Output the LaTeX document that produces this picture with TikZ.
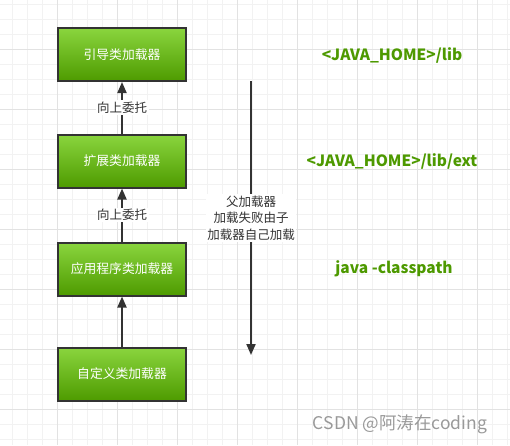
\documentclass[tikz,border=0pt]{standalone}
\usepackage{fontspec}
\setmainfont{Noto Sans CJK SC}
\usetikzlibrary{arrows.meta}
\definecolor{gridminor}{HTML}{F2F2F2}
\definecolor{gridmajor}{HTML}{E2E2E2}
\definecolor{boxtop}{HTML}{8AD53E}
\definecolor{boxbot}{HTML}{4E9B00}
\definecolor{linegray}{HTML}{333333}
\definecolor{pathgreen}{HTML}{4D9900}
\colorlet{markgray}{black!40}

\tikzset{
  loaderbox/.style={draw=linegray, line width=2pt, top color=boxtop, bottom color=boxbot,
    minimum width=128pt, minimum height=53pt, inner sep=0pt, text=white,
    font=\fontsize{12.8}{15}\selectfont},
  delegate/.style={draw=linegray, line width=2pt, -{Triangle[width=9pt,length=11pt]}},
  tag/.style={fill=white, text=linegray, inner sep=1.5pt, align=center,
    font=\fontsize{12.5}{16.5}\selectfont},
  pathlabel/.style={text=pathgreen, font=\bfseries\fontsize{15.5}{17}\selectfont},
}

\begin{document}
\begin{tikzpicture}[x=1pt,y=-1pt]

      \useasboundingbox (0,0) rectangle (510,445);

      % background grid
      \foreach \x in {12,27,...,507} \draw[gridminor] (\x,0) -- (\x,445);
      \foreach \y in {4,19,...,444} \draw[gridminor] (0,\y) -- (510,\y);
      \foreach \x in {57,117,...,507} \draw[gridmajor] (\x,0) -- (\x,445);
      \foreach \y in {49,109,...,444} \draw[gridmajor] (0,\y) -- (510,\y);

      % loaders
      \node[loaderbox] (boot) at (122,54.5) {引导类加载器};
      \node[loaderbox] (ext) at (122,161) {扩展类加载器};
      \node[loaderbox] (app) at (122,269) {应用程序类加载器};
      \node[loaderbox] (custom) at (122,374) {自定义类加载器};

      \draw[delegate] (ext) -- (boot) node[tag,midway] {向上委托};
      \draw[delegate] (app) -- (ext) node[tag,midway] {向上委托};
      \draw[delegate] (custom) -- (app);

      % fallback direction
      \coordinate (fallTop) at (251,81);
      \coordinate (fallEnd) at (251,355);
      \draw[delegate] (fallTop) -- (fallEnd)
        node[tag,pos=0.5] {父加载器\\加载失败由子\\加载器自己加载};

      % search paths
      \node[pathlabel] (bootpath) at (392,55) {<JAVA\_HOME>/lib};
      \node[pathlabel] (extpath) at (392,161) {<JAVA\_HOME>/lib/ext};
      \node[pathlabel] (apppath) at (394,269) {java -classpath};

      \node[text=markgray, font=\fontsize{17.5}{19}\selectfont] (mark) at (400,424) {CSDN @阿涛在coding};

\end{tikzpicture}
\end{document}
